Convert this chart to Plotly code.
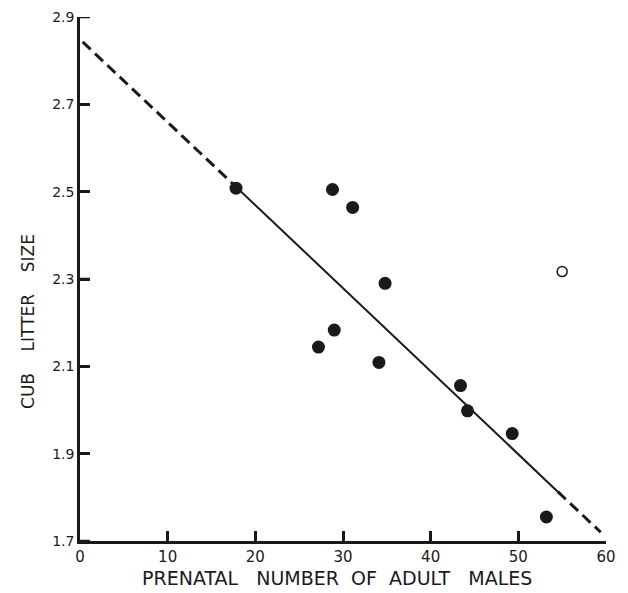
import plotly.graph_objects as go

# Data
males_filled = [17.8, 28.8, 31.1, 34.8, 29.0, 27.2, 34.1, 43.4, 44.2, 49.3, 53.2]
litter_filled = [2.508, 2.505, 2.464, 2.290, 2.183, 2.144, 2.109, 2.056, 1.998, 1.946, 1.755]
males_open = [55.0]
litter_open = [2.317]

# regression line pieces (dashed extrapolation, solid fit, dashed extrapolation)
line_dash1_x = [0.3, 17.8]
line_dash1_y = [2.843, 2.511]
line_solid_x = [17.8, 54.5]
line_solid_y = [2.511, 1.813]
line_dash2_x = [54.5, 59.4]
line_dash2_y = [1.813, 1.720]

x_ticks = [0, 10, 20, 30, 40, 50, 60]
x_ticklabels = ["0", "10", "20", "30", "40", "50", "60"]
y_ticks = [1.7, 1.9, 2.1, 2.3, 2.5, 2.7, 2.9]
y_ticklabels = ["1.7", "1.9", "2.1", "2.3", "2.5", "2.7", "2.9"]

x_title = "PRENATAL   NUMBER  OF  ADULT   MALES"
y_title = "CUB    LITTER    SIZE"

FONT = "DejaVu Sans"
INK = "#1a1a1a"

fig = go.Figure()
fig.add_trace(go.Scatter(x=line_dash1_x, y=line_dash1_y, mode="lines",
                         line=dict(color=INK, width=3, dash="11px,6px"), showlegend=False))
fig.add_trace(go.Scatter(x=line_solid_x, y=line_solid_y, mode="lines",
                         line=dict(color=INK, width=2), showlegend=False))
fig.add_trace(go.Scatter(x=line_dash2_x, y=line_dash2_y, mode="lines",
                         line=dict(color=INK, width=3, dash="11px,6px"), showlegend=False))
fig.add_trace(go.Scatter(x=males_filled, y=litter_filled, mode="markers",
                         marker=dict(color=INK, size=13, line=dict(width=0)), showlegend=False))
fig.add_trace(go.Scatter(x=males_open, y=litter_open, mode="markers",
                         marker=dict(color="white", size=10, line=dict(color=INK, width=1.5)),
                         showlegend=False))

fig.update_layout(
    width=620, height=585,
    margin=dict(l=72, r=22, t=9, b=52),
    paper_bgcolor="white", plot_bgcolor="white",
    font=dict(family=FONT, color=INK),
    xaxis=dict(range=[0, 60], tickmode="array", tickvals=x_ticks, ticktext=x_ticklabels,
               automargin=False, showgrid=False, zeroline=False, showline=True,
               linecolor=INK, linewidth=2.5, mirror=False,
               ticks="inside", ticklen=10, tickwidth=2.5, tickcolor=INK,
               tickfont=dict(size=15, family=FONT, color=INK)),
    yaxis=dict(range=[1.7, 2.9], tickmode="array", tickvals=y_ticks, ticktext=y_ticklabels,
               automargin=False, showgrid=False, zeroline=False, showline=True,
               linecolor=INK, linewidth=2.5, mirror=False,
               ticks="inside", ticklen=10, tickwidth=2.5, tickcolor=INK,
               tickfont=dict(size=14, family=FONT, color=INK)),
    annotations=[
        dict(text=x_title, xref="paper", yref="paper", x=0.489, y=0, yshift=-37,
             xanchor="center", yanchor="middle", showarrow=False,
             font=dict(size=19, family=FONT, color=INK)),
        dict(text=y_title, xref="paper", yref="paper", x=0, xshift=-52, y=0.418,
             xanchor="center", yanchor="middle", textangle=-90, showarrow=False,
             font=dict(size=17, family=FONT, color=INK)),
    ],
)
# y tick marks drawn explicitly from the y tick values, as short inward strokes
for yv in y_ticks:
    fig.add_shape(type="line", xref="x domain", yref="y", x0=0, x1=0.019, y0=yv, y1=yv,
                  line=dict(color=INK, width=2.5))

fig.write_html("out.html")
